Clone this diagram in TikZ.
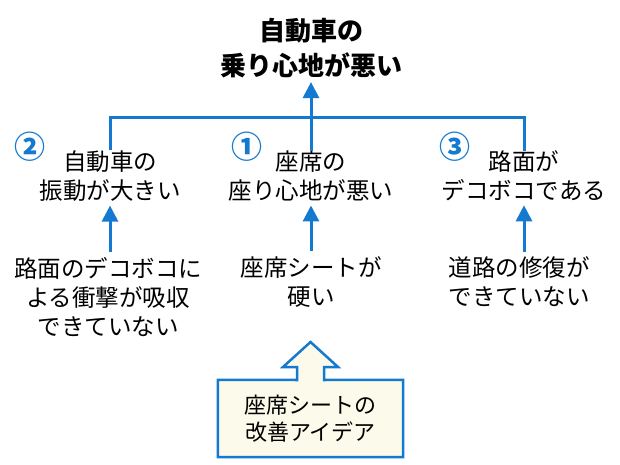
\documentclass[tikz,border=0pt]{standalone}
\usepackage{fontspec}
\setmainfont{Noto Sans CJK JP}
\usetikzlibrary{arrows.meta,backgrounds}
\definecolor{cblue}{RGB}{20,122,208}
\definecolor{cream}{RGB}{252,250,234}
\begin{document}
\begin{tikzpicture}[x=1pt,y=-1pt,
  every node/.style={inner sep=0pt, align=center},
  txt/.style={font=\fontsize{23.5}{29}\selectfont},
  ttl/.style={font=\bfseries\fontsize{26}{35}\selectfont},
  num/.style={font=\bfseries\fontsize{31}{31}\selectfont, text=cblue},
  conn/.style={draw=cblue, line width=3pt},
  arr/.style={conn, -{Triangle[length=16pt,width=16pt]}}]
\useasboundingbox (0,0) rectangle (620,465);
\node[ttl] (top) at (311,48) {自動車の\\乗り心地が悪い};
\node[txt] (m2) at (110,176) {自動車の\\振動が大きい};
\node[txt] (m1) at (311,176) {座席の\\座り心地が悪い};
\node[txt] (m3) at (524,176) {路面が\\デコボコである};
\node[num] (n2) at (30,147) {②};
\node[num] (n1) at (247,147) {①};
\node[num] (n3) at (455,147) {③};
\node[txt] (b2) at (108,297) {路面のデコボコに\\よる衝撃が吸収\\できていない};
\node[txt] (b1) at (311,282) {座席シートが\\硬い};
\node[txt] (b3) at (519,282) {道路の修復が\\できていない};
\node[txt, font=\fontsize{22}{27}\selectfont, minimum width=185pt, minimum height=77pt] (idea) at (310.5,418.5) {座席シートの\\改善アイデア};
\begin{scope}[on background layer]
\draw[cblue, line width=2.5pt, fill=cream] (idea.south west) -- (idea.north west) -- (297,380) -- (297,367) -- (283,367) -- (310.5,342) -- (338,367) -- (324,367) -- (324,380) -- (idea.north east) -- (idea.south east) -- cycle;
\end{scope}
\coordinate (j) at (311,118);
\draw[conn] (m2.north) |- (j) -| (m3.north);
\draw[conn] (m1.north) -- (j);
\draw[arr, shorten >=4pt] (j) -- (top.south);
\draw[arr, shorten <=5pt, shorten >=4pt] (m2.south |- b2.north) -- (m2.south);
\draw[arr, shorten <=5pt, shorten >=4pt] (b1.north) -- (m1.south);
\draw[arr, shorten <=5pt, shorten >=4pt] (m3.south |- b3.north) -- (m3.south);
\end{tikzpicture}
\end{document}
